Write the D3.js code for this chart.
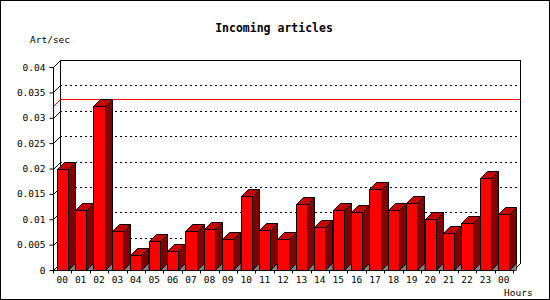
<!DOCTYPE html>
<html><head><meta charset="utf-8">
<script src="https://cdn.jsdelivr.net/npm/d3@7"></script>
<style>body{margin:0;background:#fff}svg{display:block}text{font-family:"DejaVu Sans Mono",monospace}</style>
</head><body>
<svg id="c" width="550" height="300"></svg>
<script>
const hours = ["00","01","02","03","04","05","06","07","08","09","10","11","12","13","14","15","16","17","18","19","20","21","22","23","00"];
const artPerSec = [0.0199,0.0118,0.0323,0.0076,0.0030,0.0058,0.0037,0.0076,0.0080,0.0062,0.0146,0.0078,0.0062,0.0131,0.0084,0.0118,0.0114,0.0160,0.0118,0.0133,0.0100,0.0072,0.0092,0.0181,0.0110];
const yTicks = [0,0.005,0.01,0.015,0.02,0.025,0.03,0.035,0.04];
const title = "Incoming articles", yTitle = "Art/sec", xTitle = "Hours";

const svg = d3.select("#c");
const L = 53, R = 513, T = 67, B = 270, D = 7;
const x = d3.scaleBand().domain(d3.range(hours.length)).range([L, R]).paddingInner(0.4).paddingOuter(0.2);
const y = d3.scaleLinear().domain([0, 0.04]).range([B, T]);
const py = v => Math.round(y(v)) + 0.5;

svg.append("rect").attr("x",0.5).attr("y",0.5).attr("width",549).attr("height",299).attr("fill","#fff").attr("stroke","#000");

const g = svg.append("g").attr("shape-rendering","crispEdges");
// back-plane gridlines
yTicks.filter(t => t > 0 && t < 0.04).forEach(t => {
  g.append("line").attr("x1",L+D).attr("x2",R+D).attr("y1",py(t)-D).attr("y2",py(t)-D)
   .attr("stroke","#000").attr("stroke-dasharray","2,3");
});
// side-wall tick diagonals
const gd = svg.append("g");
yTicks.forEach(t => {
  gd.append("line").attr("x1",L+0.5).attr("y1",py(t)).attr("x2",L+D+0.5).attr("y2",py(t)-D).attr("stroke","#000");
});
// max line
const mx = d3.max(artPerSec);
g.append("line").attr("x1",L+D).attr("x2",R+D).attr("y1",py(mx)-D).attr("y2",py(mx)-D).attr("stroke","#ff0000");
gd.append("line").attr("x1",L+0.5).attr("y1",py(mx)).attr("x2",L+D+0.5).attr("y2",py(mx)-D).attr("stroke","#ff0000");
// back plane frame
g.append("path").attr("d",`M${L+D+0.5},${B-D+0.5}V${T-D+0.5}H${R+D+0.5}V${B-D+0.5}`).attr("fill","none").attr("stroke","#000");
gd.append("path").attr("d",`M${R+0.5},${B+0.5}L${R+D+0.5},${B-D+0.5}`).attr("fill","none").attr("stroke","#000");

// bars
const bw = x.bandwidth();
const bars = svg.append("g");
artPerSec.forEach((v, i) => {
  const x0 = Math.round(x(i)) + 0.5, x1 = Math.round(x(i) + bw) + 0.5;
  const yt = py(v), yb = B + 0.5;
  bars.append("path").attr("d",`M${x1},${yb}L${x1+D},${yb-D}V${yb}Z`).attr("fill","#808080").attr("stroke","#000").attr("stroke-width",0.6);
  bars.append("path").attr("d",`M${x1},${yb}V${yt}L${x1+D},${yt-D}V${yb-D}Z`).attr("fill","#800000").attr("stroke","#000");
  bars.append("path").attr("d",`M${x0},${yt}L${x0+D},${yt-D}H${x1+D}L${x1},${yt}Z`).attr("fill","#c80000").attr("stroke","#000");
  bars.append("rect").attr("x",x0).attr("y",yt).attr("width",x1-x0).attr("height",yb-yt).attr("fill","#ff0000").attr("stroke","#000");
});

// y axis
const ya = svg.append("g").attr("transform",`translate(${L+0.5},0)`)
  .call(d3.axisLeft(y).tickValues(yTicks).tickSize(4).tickPadding(4)
    .tickFormat(d => d === 0 ? "0" : String(+d.toFixed(3))));
ya.select(".domain").attr("d",`M-0,${T+0.5}V${B+0.5}`).attr("stroke","#000");
ya.selectAll("text").attr("font-size","9.5px").attr("fill","#000").style("font-family","DejaVu Sans Mono");

// x axis
const xa = svg.append("g").attr("transform",`translate(0,${B+0.5})`)
  .call(d3.axisBottom(x).tickFormat(i => hours[i]).tickSize(0).tickPadding(6));
xa.select(".domain").attr("d",`M${L},0H${R+0.5}`).attr("stroke","#000");
xa.selectAll("text").attr("font-size","9.5px").attr("fill","#000").style("font-family","DejaVu Sans Mono");
d3.range(hours.length + 1).forEach(i => {
  const bx = Math.round(x.range()[0] + i * x.step()) + 0.5;
  xa.append("line").attr("x1",bx).attr("x2",bx).attr("y1",0).attr("y2",3).attr("stroke","#000");
});

// titles
svg.append("text").attr("x",274).attr("y",32).attr("text-anchor","middle").attr("font-size","11.5px").attr("font-weight","bold").text(title);
svg.append("text").attr("x",30).attr("y",43).attr("font-size","9.5px").text(yTitle);
svg.append("text").attr("x",504).attr("y",296).attr("font-size","9.5px").text(xTitle);
</script>
</body></html>
